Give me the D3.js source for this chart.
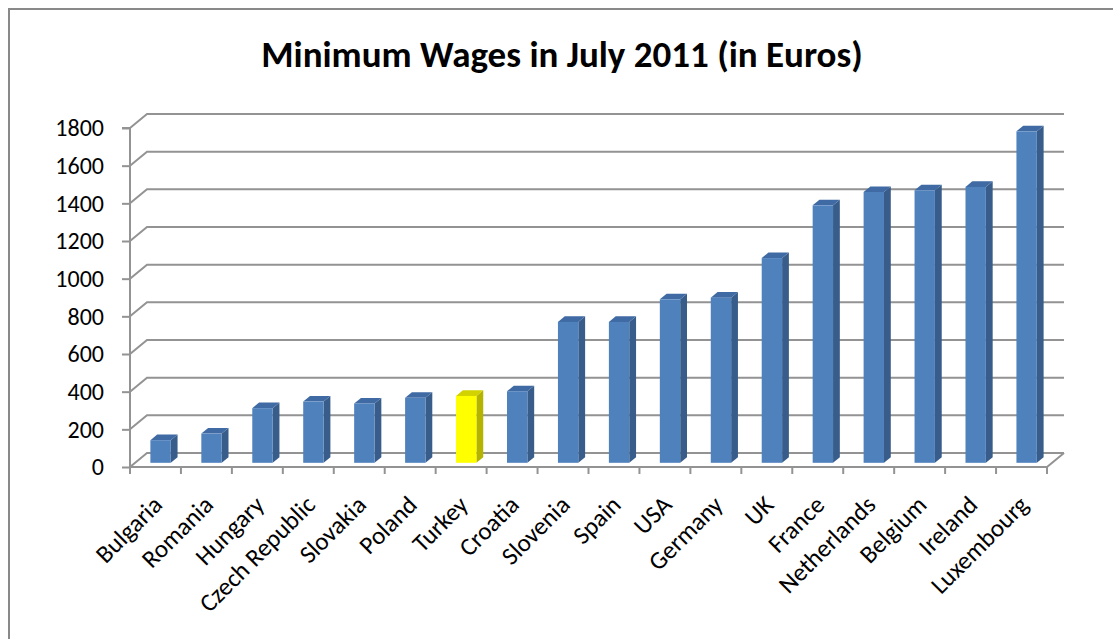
<!DOCTYPE html>
<html>
<head>
<meta charset="utf-8">
<script src="https://cdn.jsdelivr.net/npm/d3@7"></script>
<style>
  html, body { margin: 0; padding: 0; background: #fff; }
  svg { display: block; }
  text { font-family: Carlito, Lato, "Open Sans", sans-serif; fill: #000; }
</style>
</head>
<body>
<svg id="chart" width="1113" height="639"></svg>
<script>
// Minimum monthly wages, July 2011, in euros
const countries = ["Bulgaria", "Romania", "Hungary", "Czech Republic", "Slovakia", "Poland",
  "Turkey", "Croatia", "Slovenia", "Spain", "USA", "Germany", "UK", "France",
  "Netherlands", "Belgium", "Ireland", "Luxembourg"];
const wages = [120, 155, 290, 325, 315, 345, 355, 380, 748, 748, 868, 877, 1087, 1367,
  1438, 1447, 1465, 1760];
const highlighted = ["Turkey"];
const yTicks = [0, 200, 400, 600, 800, 1000, 1200, 1400, 1600, 1800];
const titleText = "Minimum Wages in July 2011 (in Euros)";

const svg = d3.select("#chart");
const W = 1113, H = 639;
const fontStack = "Carlito, Lato, 'Open Sans', sans-serif";

// frame (left and top edges visible)
svg.append("path")
  .attr("d", `M9,${H} L9,9 L${W},9`)
  .attr("fill", "none").attr("stroke", "#898989").attr("stroke-width", 2);

// front plane of the 3D plot area
const x0 = 130, x1 = 1047;
const depth = { dx: 17, dy: -14 };           // back wall offset
const x = d3.scaleBand().domain(countries).range([x0, x1]).paddingInner(0).paddingOuter(0);
const y = d3.scaleLinear().domain([0, 1800]).range([467, 128]);

const gridColor = "#939393";

// gridlines on the back wall with the diagonal side edge
const grid = svg.append("g");
yTicks.forEach(v => {
  const yy = y(v);
  grid.append("path")
    .attr("d", `M${x0},${yy} L${x0 + depth.dx},${yy + depth.dy} L${x1 + depth.dx},${yy + depth.dy}`)
    .attr("fill", "none").attr("stroke", gridColor).attr("stroke-width", 2);
});
// floor front edge and right edge
grid.append("path")
  .attr("d", `M${x0},${y(0)} L${x1},${y(0)} L${x1 + depth.dx},${y(0) + depth.dy}`)
  .attr("fill", "none").attr("stroke", gridColor).attr("stroke-width", 2);

// value axis
const yAxis = d3.axisLeft(y).tickValues(yTicks).tickSize(8).tickPadding(18).tickFormat(d3.format("d"));
const ya = svg.append("g").attr("transform", `translate(${x0},0)`).call(yAxis);
ya.select(".domain").attr("stroke", gridColor).attr("stroke-width", 2)
  .attr("d", `M-8,${y(1800)}H0V${y(0)}`);
ya.selectAll(".tick line").attr("stroke", gridColor).attr("stroke-width", 2);
ya.selectAll(".tick text").style("font-size", "24px").attr("fill", "#000")
  .style("font-family", fontStack);

// category axis ticks at band boundaries
const xTickPos = countries.map(c => x(c)).concat([x1]);
svg.append("g").selectAll("line").data(xTickPos).join("line")
  .attr("x1", d => d).attr("x2", d => d)
  .attr("y1", y(0)).attr("y2", y(0) + 7)
  .attr("stroke", gridColor).attr("stroke-width", 2);

// 3D columns
const gapFront = 0.3, gapBack = 0.7;
const bw = x.bandwidth() / 2.5;
const colors = {
  normal: { front: "#4f81bd", side: "#385d8a", top: "#3f6aa3" },
  hi: { front: "#ffff00", side: "#b3b300", top: "#d2d200" }
};
const bars = svg.append("g");
countries.forEach((c, i) => {
  const col = highlighted.includes(c) ? colors.hi : colors.normal;
  const fdx = depth.dx * gapFront, fdy = depth.dy * gapFront;
  const bdx = depth.dx * gapBack, bdy = depth.dy * gapBack;
  const xl = x(c) + (x.bandwidth() - bw) / 2 + fdx;
  const xr = xl + bw;
  const yb = y(0) + fdy;
  const yt = y(wages[i]) + fdy;
  const ddx = bdx - fdx, ddy = bdy - fdy;
  // side face
  bars.append("path")
    .attr("d", `M${xr},${yb} L${xr + ddx},${yb + ddy} L${xr + ddx},${yt + ddy} L${xr},${yt} Z`)
    .attr("fill", col.side);
  // top face
  bars.append("path")
    .attr("d", `M${xl},${yt} L${xr},${yt} L${xr + ddx},${yt + ddy} L${xl + ddx},${yt + ddy} Z`)
    .attr("fill", col.top);
  // front face
  bars.append("rect")
    .attr("x", xl).attr("y", yt).attr("width", bw).attr("height", yb - yt)
    .attr("fill", col.front);
});

// rotated category labels
svg.append("g").selectAll("text").data(countries).join("text")
  .attr("transform", d => `translate(${x(d) + x.bandwidth() / 2 - 4},${y(0) + 27}) rotate(-45)`)
  .attr("text-anchor", "end")
  .attr("dy", "0.7em")
  .style("font-size", "25px")
  .text(d => d);

// title
svg.append("text")
  .attr("x", 562).attr("y", 67)
  .attr("text-anchor", "middle")
  .style("font-size", "37px").style("font-weight", "bold")
  .text(titleText);
</script>
</body>
</html>
